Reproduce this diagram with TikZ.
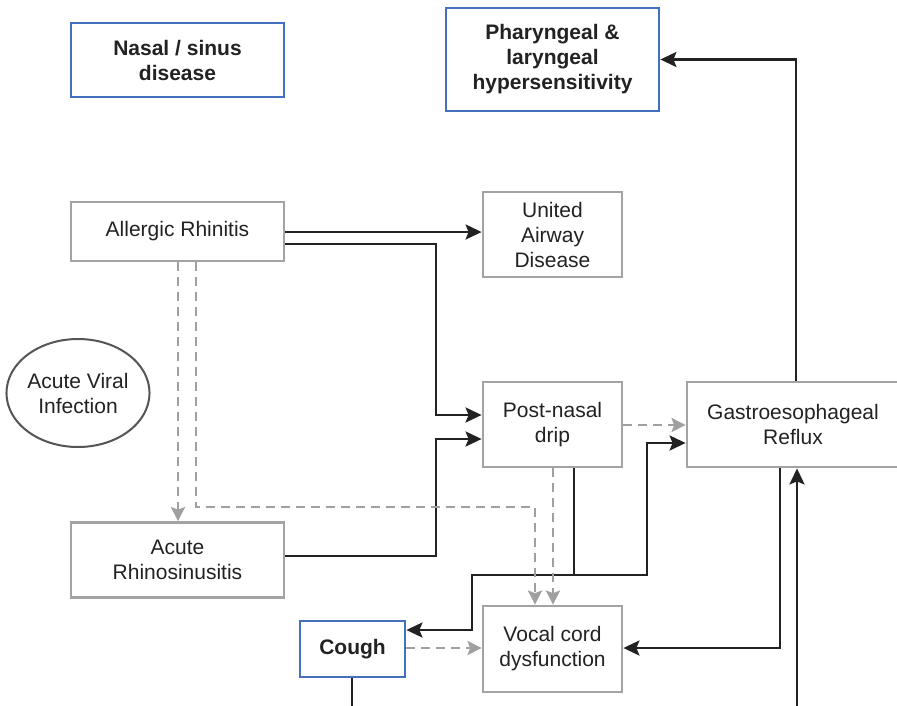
\documentclass[tikz,border=0pt]{standalone}
\usepackage{fontspec}
\setmainfont{Liberation Sans}
\usetikzlibrary{arrows.meta,shapes.geometric}
\definecolor{ink}{HTML}{222222}
\definecolor{boxgray}{HTML}{A3A3A3}
\definecolor{dgray}{HTML}{A0A0A0}
\definecolor{bblue}{HTML}{4470C0}
\definecolor{egray}{HTML}{555555}
\begin{document}
\begin{tikzpicture}[x=1pt,y=-1pt,
  every node/.style={font=\fontsize{21}{25}\selectfont, text=ink, align=center, inner sep=0pt},
  gbox/.style={draw=boxgray, line width=2.8pt, rectangle, fill=white},
  bbox/.style={draw=bblue, line width=2.8pt, rectangle, fill=white, font=\fontsize{21}{25}\selectfont\bfseries},
  arr/.style={draw=ink, line width=2.6pt, -{Stealth[length=16pt,width=15pt,inset=3pt]}},
  darr/.style={draw=dgray, line width=2.5pt, dash pattern=on 9pt off 6pt, -{Stealth[length=14pt,width=14pt,inset=2.5pt]}}
]
\useasboundingbox (0,0) rectangle (897,705);
\fill[white] (0,0) rectangle (897,705);

\node[bbox, minimum width=213pt, minimum height=74pt] (NS) at (177.5,60) {Nasal / sinus\\disease};
\node[bbox, minimum width=213pt, minimum height=103pt] (PH) at (552.5,59.5) {Pharyngeal \&\\laryngeal\\hypersensitivity};
\node[gbox, minimum width=213pt, minimum height=59pt] (AR) at (177.5,231.5) {Allergic Rhinitis};
\node[gbox, minimum width=139pt, minimum height=85pt] (UAD) at (552.5,234.5) {United\\Airway\\Disease};
\node[draw=egray, line width=2pt, ellipse, minimum width=143pt, minimum height=108pt] (AVI) at (78,393) {Acute Viral\\Infection};
\node[gbox, minimum width=139pt, minimum height=85pt] (PND) at (552.5,424.5) {Post-nasal\\drip};
\node[gbox, minimum width=212pt, minimum height=85pt] (GERD) at (793,424.5) {Gastroesophageal\\Reflux};
\node[gbox, minimum width=213pt, minimum height=75pt] (ARS) at (177.5,560) {Acute\\Rhinosinusitis};
\node[bbox, minimum width=105pt, minimum height=56pt] (CO) at (352.5,649) {Cough};
\node[gbox, minimum width=139pt, minimum height=86pt] (VCD) at (552.5,649) {Vocal cord\\dysfunction};

% solid connectors
\draw[arr] (AR.east |- 0,232) -- (UAD.west |- 0,232);
\draw[arr] (AR.east |- 0,244) -- (436,244) |- (PND.west |- 0,415);
\draw[arr] (ARS.east |- 0,556) -- (436,556) |- (PND.west |- 0,439);
\draw[arr] (PND.south -| 574,0) -- (574,575) -| (472,630) -- (CO.east |- 0,630);
\draw[arr] (PND.south -| 574,0) -- (574,575) -| (647,443) -- (GERD.west |- 0,443);
\draw[arr] (GERD.north -| 796,0) |- (PH.east);
\draw[arr] (GERD.south -| 780,0) |- (VCD.east |- 0,648);
\draw[arr] (CO.south -| 352,0) -- (352,712) -| (GERD.south -| 797,0);

% dashed connectors
\draw[darr] (AR.south -| 178,0) -- (ARS.north -| 178,0);
\draw[darr] (AR.south -| 196,0) |- (535,507) -- (VCD.north -| 535,0);
\draw[darr] (PND.south -| 553,0) -- (VCD.north -| 553,0);
\draw[darr] (PND.east |- 0,425) -- (GERD.west |- 0,425);
\draw[darr] (CO.east |- 0,648) -- (VCD.west |- 0,648);
\end{tikzpicture}
\end{document}
